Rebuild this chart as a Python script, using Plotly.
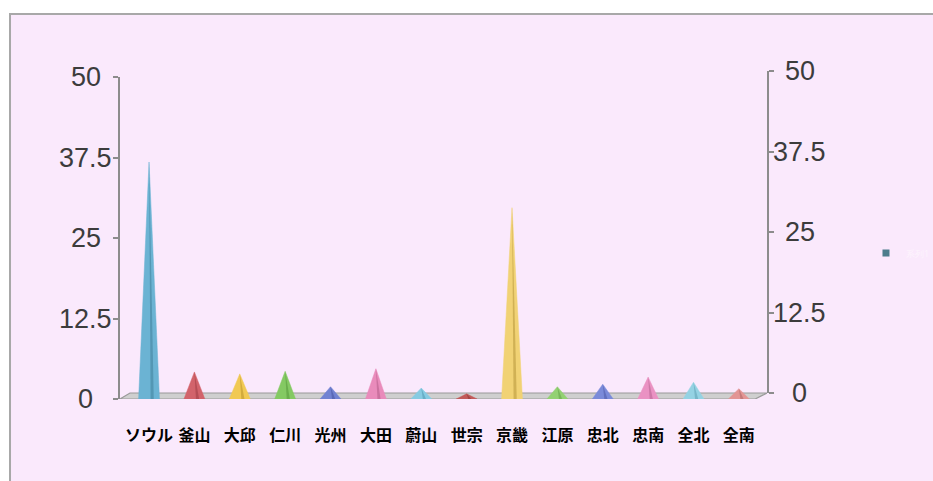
import plotly.graph_objects as go

# Regional figures (unit: same scale on both value axes)
regions = ["ソウル", "釜山", "大邱", "仁川", "光州", "大田", "蔚山",
           "世宗", "京畿", "江原", "忠北", "忠南", "全北", "全南"]
values = [36.8, 4.2, 3.9, 4.3, 1.9, 4.7, 1.7, 0.8, 29.7, 1.9, 2.3, 3.4, 2.6, 1.6]
colors = ["#6bb3d3", "#d2636b", "#f1c953", "#84c963", "#7282d2", "#e98bbb", "#86cbe2",
          "#c25a5a", "#f1d274", "#93d173", "#7a8ad9", "#ea92c3", "#94d2e3", "#e39595"]
shades = ["#3f7f9b", "#9c3d44", "#b8912a", "#55963a", "#4654a0", "#b35c89", "#4f97ae",
          "#8a3434", "#b6963a", "#62a045", "#4c5aa8", "#b5628f", "#5c9fb2", "#ad6464"]
tick_vals = [0, 12.5, 25, 37.5, 50]
tick_text = ["0", "12.5", "25", "37.5", "50"]

BG = "#fae9fc"
half_w = 0.23       # cone base half-width in category units
floor_depth = 0.93  # visual depth of the floor slab in value units

fig = go.Figure()

# Floor slab under the cones
fig.add_trace(go.Scatter(
    x=[-0.64, 13.36, 13.62, -0.42, -0.64],
    y=[0, 0, floor_depth, floor_depth, 0],
    mode="lines", fill="toself", fillcolor="#cfcfcf",
    line=dict(color="#9a9a9a", width=1.2),
    hoverinfo="skip", showlegend=False,
))

# Cones: a main body plus a darker sliver on the shaded side
for i, (name, v, c, s) in enumerate(zip(regions, values, colors, shades)):
    fig.add_trace(go.Scatter(
        x=[i - half_w, i, i + half_w, i - half_w],
        y=[0, v, 0, 0],
        mode="lines", fill="toself", fillcolor=c,
        line=dict(color=c, width=0.5),
        name=name, hoverinfo="x+y", showlegend=False,
    ))
    fig.add_trace(go.Scatter(
        x=[i + half_w * 0.15, i, i + half_w * 0.45, i + half_w * 0.15],
        y=[0, v, 0, 0],
        mode="lines", fill="toself", fillcolor=s,
        line=dict(color=s, width=0), opacity=0.55,
        hoverinfo="skip", showlegend=False,
    ))

# Legend entry
fig.add_trace(go.Scatter(
    x=[None], y=[None], mode="markers",
    marker=dict(symbol="square", size=7, color="#4d7d8c"),
    name="系列1", showlegend=True,
))

# Trace bound to the back-wall axis so it renders
fig.add_trace(go.Scatter(x=[None], y=[None], yaxis="y2", showlegend=False, hoverinfo="skip"))

annotations = []
for tv, tt in zip(tick_vals, tick_text):
    annotations.append(dict(
        x=-0.0526, xref="paper", y=tv, yref="y", text=tt, showarrow=False,
        xanchor="center", yanchor="middle",
        font=dict(family="Liberation Sans, Arial", size=27, color="#3c3c3c"),
    ))
    annotations.append(dict(
        x=1.051, xref="paper", y=tv, yref="y2", text=tt, showarrow=False,
        xanchor="center", yanchor="middle",
        font=dict(family="Liberation Sans, Arial", size=27, color="#3c3c3c"),
    ))

# plot area spans 71..399 px vertically (328 px); front axis 399..77, back axis 393..71
front_top = 322 / 328
back_bottom = 6 / 328

fig.update_layout(
    width=933, height=481,
    margin=dict(l=120, r=166, t=71, b=82, autoexpand=False),
    paper_bgcolor="white",
    plot_bgcolor="rgba(0,0,0,0)",
    showlegend=True,
    legend=dict(
        x=1.153, y=0.445, xanchor="left", yanchor="middle",
        bgcolor="rgba(0,0,0,0)",
        font=dict(size=9, color="#fdf4fd"),
        itemwidth=30,
    ),
    xaxis=dict(
        range=[-0.64, 13.62],
        tickmode="array", tickvals=list(range(len(regions))), ticktext=regions,
        ticks="outside", ticklen=22, tickcolor="rgba(0,0,0,0)",
        tickfont=dict(family="Noto Sans CJK JP", size=16, color="#000000", weight="bold"),
        showgrid=False, zeroline=False, showline=False,
        fixedrange=True,
    ),
    yaxis=dict(
        domain=[0, front_top],
        range=[0, 50], tickvals=tick_vals, showticklabels=False,
        ticks="outside", ticklen=5, tickcolor="#8c8c8c", tickwidth=1.5,
        showline=True, linecolor="#8c8c8c", linewidth=2,
        showgrid=False, zeroline=False,
    ),
    yaxis2=dict(
        domain=[back_bottom, 1],
        range=[0, 50], side="right", anchor="x",
        tickvals=tick_vals, showticklabels=False,
        ticks="outside", ticklen=5, tickcolor="#8c8c8c", tickwidth=1.5,
        showline=True, linecolor="#8c8c8c", linewidth=2,
        showgrid=False, zeroline=False,
    ),
    annotations=annotations,
    shapes=[dict(
        type="rect", xref="paper", yref="paper",
        x0=-0.170, x1=1.3, y0=-0.3, y1=(399 - 14) / 328,
        fillcolor=BG, line=dict(color="#a8a8a8", width=2), layer="below",
    )],
)

fig.write_html("out.html")
